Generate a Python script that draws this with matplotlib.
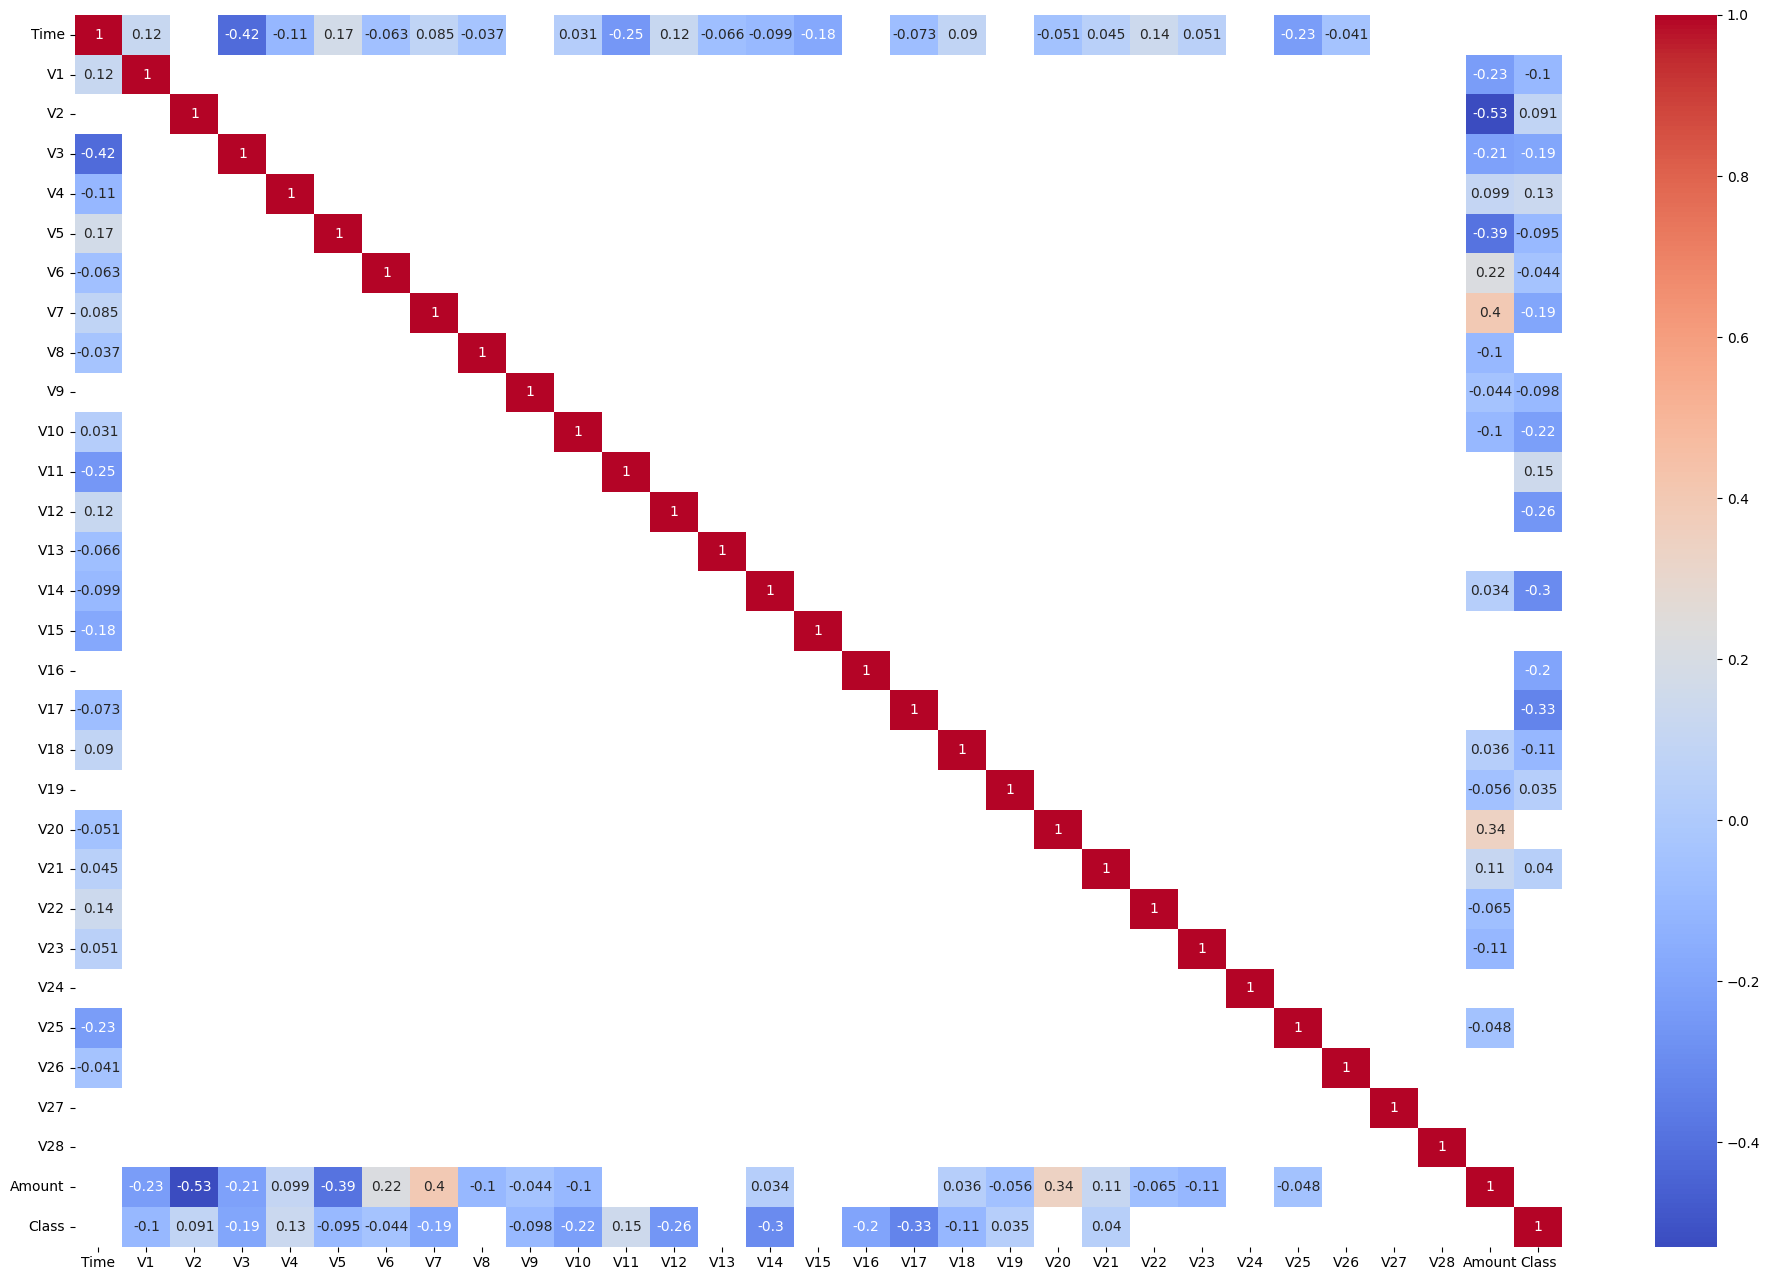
# Heatmap de correlação (Time, V1..V28, Amount, Class)
import matplotlib
matplotlib.use("Agg")
import matplotlib.pyplot as plt
import numpy as np
import pandas as pd
import seaborn as sns

nan = np.nan

labels = ["Time"] + [f"V{i}" for i in range(1, 29)] + ["Amount", "Class"]

# correlações com V1..V28 (células em branco = mascaradas)
time_corr = [0.12, nan, -0.42, -0.11, 0.17, -0.063, 0.085, -0.037, nan, 0.031,
             -0.25, 0.12, -0.066, -0.099, -0.18, nan, -0.073, 0.09, nan, -0.051,
             0.045, 0.14, 0.051, nan, -0.23, -0.041, nan, nan]
amount_corr = [-0.23, -0.53, -0.21, 0.099, -0.39, 0.22, 0.4, -0.1, -0.044, -0.1,
               nan, nan, nan, 0.034, nan, nan, nan, 0.036, -0.056, 0.34,
               0.11, -0.065, -0.11, nan, -0.048, nan, nan, nan]
class_corr = [-0.1, 0.091, -0.19, 0.13, -0.095, -0.044, -0.19, nan, -0.098, -0.22,
              0.15, -0.26, nan, -0.3, nan, -0.2, -0.33, -0.11, 0.035, nan,
              0.04, nan, nan, nan, nan, nan, nan, nan]
time_amount = nan
time_class = nan
amount_class = nan

n = len(labels)
corr = np.full((n, n), nan)
np.fill_diagonal(corr, 1.0)
corr[0, 1:29] = time_corr
corr[1:29, 0] = time_corr
corr[29, 1:29] = amount_corr
corr[1:29, 29] = amount_corr
corr[30, 1:29] = class_corr
corr[1:29, 30] = class_corr
corr[0, 29] = corr[29, 0] = time_amount
corr[0, 30] = corr[30, 0] = time_class
corr[29, 30] = corr[30, 29] = amount_class

df = pd.DataFrame(corr, index=labels, columns=labels)

W, H = 1770, 1281
fig = plt.figure(figsize=(W / 100, H / 100), dpi=100)
ax = fig.add_axes([74.5 / W, 1 - 1246.7 / H, (1562 - 74.5) / W, (1246.7 - 15) / H])
cax = fig.add_axes([1655 / W, 1 - 1246.7 / H, 62 / W, (1246.7 - 15) / H])

sns.heatmap(df, annot=True, cmap="coolwarm", vmin=-0.53, vmax=1.0,
            ax=ax, cbar_ax=cax)
ax.set_xticklabels(labels, rotation=0)
ax.set_yticklabels(labels, rotation=0)

fig.savefig("out.png", dpi=100)
plt.close(fig)
